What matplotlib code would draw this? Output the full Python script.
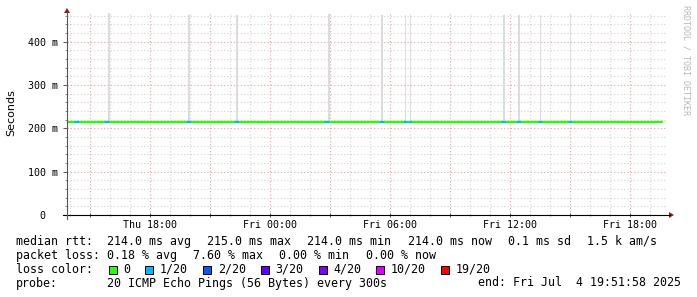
import matplotlib
matplotlib.use('Agg')
import matplotlib.pyplot as plt
import matplotlib.dates as mdates
from matplotlib.ticker import MultipleLocator, FuncFormatter
from matplotlib.patches import Rectangle, Polygon
from matplotlib.lines import Line2D
import numpy as np
import pandas as pd

# ---- data ----
t_start = pd.Timestamp('2025-07-03 13:51:58')
t_end = pd.Timestamp('2025-07-04 19:51:58')
first_bin = '2025-07-03 13:50'
last_bin = '2025-07-04 19:35'

base_rtt = 214.0   # ms, median most of the time
bump_rtt = 215.0
bump_bins = ['2025-07-03 13:55', '2025-07-03 14:00', '2025-07-03 14:30', '2025-07-03 14:35',
             '2025-07-03 16:45', '2025-07-03 16:50', '2025-07-03 19:10', '2025-07-03 19:15',
             '2025-07-03 19:35', '2025-07-03 19:40', '2025-07-03 22:30', '2025-07-03 22:35',
             '2025-07-03 23:30', '2025-07-03 23:35', '2025-07-04 00:50', '2025-07-04 00:55',
             '2025-07-04 01:20', '2025-07-04 01:25', '2025-07-04 02:20', '2025-07-04 02:25',
             '2025-07-04 02:30', '2025-07-04 11:05']

# bins with 1/20 loss
loss_bins = ['2025-07-03 14:20', '2025-07-03 15:50', '2025-07-03 19:55', '2025-07-03 22:20',
             '2025-07-04 02:50', '2025-07-04 05:35', '2025-07-04 06:45', '2025-07-04 07:00',
             '2025-07-04 11:40', '2025-07-04 12:25', '2025-07-04 13:30', '2025-07-04 15:00']

# smoke (outlier pings)
smoke_bins = ['2025-07-03 15:55', '2025-07-03 19:55', '2025-07-03 22:20', '2025-07-04 02:55',
              '2025-07-04 05:35', '2025-07-04 06:45', '2025-07-04 07:00', '2025-07-04 11:40',
              '2025-07-04 12:25', '2025-07-04 13:30', '2025-07-04 15:00']
smoke_low = [213, 213, 213, 213, 213, 213, 213, 213, 213, 213, 213]
smoke_high = [466, 461, 461, 464, 461, 461, 461, 461, 461, 461, 461]

loss_labels = ['0', '1/20', '2/20', '3/20', '4/20', '10/20', '19/20']
loss_colors = ['#26ff00', '#00b8ff', '#0059ff', '#5e00ff', '#7e00ff', '#dd00ff', '#ff0000']

rtt_stats = ['214.0 ms avg', '215.0 ms max', '214.0 ms min', '214.0 ms now', '0.1 ms sd', '1.5 k am/s']
loss_stats = ['0.18 % avg', '7.60 % max', '0.00 % min', '0.00 % now']
probe_text = '20 ICMP Echo Pings (56 Bytes) every 300s'
end_text = 'end: Fri Jul  4 19:51:58 2025'

# ---- build series ----
bins = pd.date_range(first_bin, last_bin, freq='5min')
step = pd.Timedelta('5min')
rtt = np.full(len(bins), base_rtt)
rtt[bins.isin(pd.to_datetime(bump_bins))] = bump_rtt
edges = mdates.date2num(list(bins) + [bins[-1] + step])

W, H = 697, 297
MONO = 'DejaVu Sans Mono'
fx = lambda x: x / W
fy = lambda y: 1 - y / H

fig = plt.figure(figsize=(W / 100, H / 100), dpi=100)
ax = fig.add_axes([fx(67), fy(215), 600 / W, 202 / H])
ax.set_xlim(mdates.date2num(t_start), mdates.date2num(t_end))
ax.set_ylim(0, 466)
for s in ax.spines.values():
    s.set_visible(False)

# grid
ax.xaxis.set_major_locator(mdates.HourLocator(byhour=range(0, 24, 3)))
ax.xaxis.set_minor_locator(mdates.HourLocator())
ax.yaxis.set_major_locator(MultipleLocator(100))
ax.yaxis.set_minor_locator(MultipleLocator(20))
ax.grid(which='minor', color='#d4d4d4', lw=0.8, ls=(0, (1, 2)))
ax.grid(which='major', color='#eea0a0', lw=0.8, ls=(0, (1, 2)))
ax.set_axisbelow(True)

def xfmt(v, pos):
    d = mdates.num2date(v)
    return d.strftime('%a %H:%M') if d.hour % 6 == 0 else ''
ax.xaxis.set_major_formatter(FuncFormatter(xfmt))
ax.yaxis.set_major_formatter(FuncFormatter(lambda v, p: '0  ' if v == 0 else f'{int(v)} m'))
ax.tick_params(which='major', axis='x', length=3, direction='inout', width=0.7, color='#555555', pad=2.3,
               labelsize=7.2, labelfontfamily=MONO)
ax.tick_params(which='minor', axis='x', length=2, direction='inout', width=0.7, color='#888888')
ax.tick_params(which='major', axis='y', length=3, direction='out', width=0.7, color='#555555', pad=3.6,
               labelsize=7.2, labelfontfamily=MONO)
ax.tick_params(which='minor', axis='y', length=1.5, direction='out', width=0.7, color='#888888')

# smoke
for t, lo, hi in zip(smoke_bins, smoke_low, smoke_high):
    x0 = mdates.date2num(pd.Timestamp(t))
    ax.bar(x0, hi - lo, bottom=lo, width=step / pd.Timedelta('1D'), align='edge',
           color='#dcdcdc', lw=0, zorder=2)

# median line coloured by loss
ax.stairs(rtt, edges, baseline=None, color=loss_colors[0], lw=1.6, zorder=3)
for t in loss_bins:
    i = bins.get_loc(pd.Timestamp(t))
    ax.hlines(rtt[i], edges[i], edges[i + 1], color=loss_colors[1], lw=1.6, zorder=4,
              capstyle='projecting')

# axis lines with arrows
fig.add_artist(Line2D([fx(63), fx(670)], [fy(215), fy(215)], color='black', lw=0.8))
fig.add_artist(Line2D([fx(67), fx(67)], [fy(219), fy(12)], color='#555555', lw=0.8))
fig.add_artist(Polygon([[fx(669), fy(212)], [fx(669), fy(218)], [fx(674), fy(215)]],
                       closed=True, color='#8b1a1a', lw=0))
fig.add_artist(Polygon([[fx(64), fy(13)], [fx(70), fy(13)], [fx(67), fy(8)]],
                       closed=True, color='#8b1a1a', lw=0))

fig.text(fx(11), fy(113), 'Seconds', rotation=90, ha='center', va='center', size=8)
fig.text(fx(686), fy(5), 'RRDTOOL / TOBI OETIKER', rotation=270, ha='center', va='top',
         size=6, family=MONO, color='#b8b8b8')

# legend block
CW = 7.02
def row(y, head, items, x0=107, gap=16):
    fig.text(fx(16), fy(y), head, family=MONO, size=8.4, va='baseline')
    x = x0
    for s in items:
        fig.text(fx(x), fy(y), s, family=MONO, size=8.4, va='baseline')
        x += len(s) * CW + gap

row(245, 'median rtt:', rtt_stats)
row(259, 'packet loss:', loss_stats)
fig.text(fx(16), fy(272.7), 'loss color:', family=MONO, size=8.4, va='baseline')
bx = 108.5
for lab, c in zip(loss_labels, loss_colors):
    fig.add_artist(Rectangle((fx(bx), fy(273.7)), 8 / W, 8 / H, facecolor=c,
                             edgecolor='black', lw=0.7))
    tx = bx + 14.7
    fig.text(fx(tx), fy(272.7), lab, family=MONO, size=8.4, va='baseline')
    bx = tx + len(lab) * CW + 15
fig.text(fx(16), fy(286.5), 'probe:', family=MONO, size=8.4, va='baseline')
fig.text(fx(107), fy(286.5), probe_text, family=MONO, size=8.4, va='baseline')
fig.text(fx(478), fy(286.5), end_text, family=MONO, size=8.4, va='baseline')

fig.savefig('out.png', dpi=100)
